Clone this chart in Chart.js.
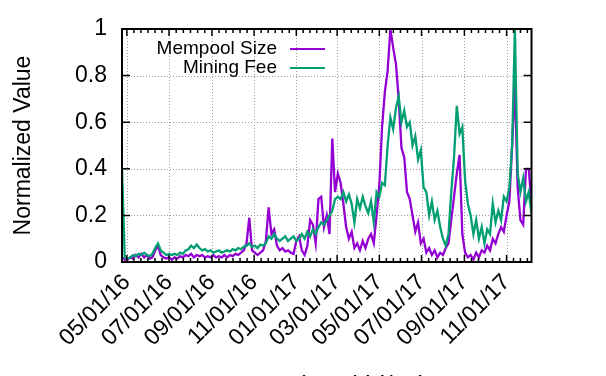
<!DOCTYPE html>
<html lang="en">
<head>
  <meta charset="UTF-8">
  <title>Mempool Size vs Mining Fee</title>
  <script src="https://cdn.jsdelivr.net/npm/chart.js"></script>
  <style>
    body { margin: 0; background: #fff; }
    canvas { display: block; }
  </style>
</head>
<body>
  <canvas id="chart" width="606" height="376"></canvas>

  <script>
    // Days are counted from 05/01/16, one sample every 4 days
    const startDay = -7;
    const stepDays = 4;

    const mempoolSize = [
      0.02, 0.01, 0.01, 0.02, 0.015, 0.03, 0.02, 0.035, 0.02, 0.03,
      0.015, 0.02, 0.05, 0.07, 0.03, 0.02, 0.015, 0.02, 0.01, 0.02,
      0.015, 0.025, 0.02, 0.03, 0.025, 0.035, 0.02, 0.03, 0.025, 0.03,
      0.02, 0.025, 0.02, 0.03, 0.02, 0.025, 0.02, 0.03, 0.02, 0.03,
      0.025, 0.035, 0.03, 0.04, 0.05, 0.08, 0.19, 0.05, 0.04, 0.03,
      0.04, 0.05, 0.09, 0.235, 0.12, 0.14, 0.07, 0.05, 0.06, 0.045,
      0.05, 0.04, 0.035, 0.09, 0.11, 0.05, 0.03, 0.07, 0.18, 0.16,
      0.08, 0.27, 0.28, 0.15, 0.2, 0.12, 0.53, 0.3, 0.38, 0.34,
      0.25, 0.15, 0.1, 0.13, 0.06, 0.08, 0.05, 0.09, 0.06, 0.1,
      0.12, 0.08, 0.2, 0.33, 0.58, 0.73, 0.82, 1.0, 0.92, 0.85,
      0.7, 0.49, 0.45, 0.3, 0.27, 0.2, 0.13, 0.17, 0.08, 0.1,
      0.04, 0.06, 0.03, 0.05, 0.02, 0.04, 0.03, 0.06, 0.08, 0.18,
      0.28, 0.38, 0.46, 0.12, 0.04, 0.02, 0.03, 0.01, 0.04, 0.02,
      0.05, 0.04, 0.07, 0.05, 0.1, 0.08, 0.12, 0.15, 0.13, 0.2,
      0.26, 0.5, 0.76, 0.32, 0.18, 0.16, 0.4, 0.4, 0.25
    ];

    const miningFee = [
      0.4, 0.02, 0.015, 0.02, 0.03, 0.025, 0.035, 0.03, 0.04, 0.03,
      0.025, 0.035, 0.06, 0.08, 0.05, 0.04, 0.03, 0.035, 0.03, 0.035,
      0.03, 0.04, 0.035, 0.05, 0.055, 0.07, 0.06, 0.075, 0.06, 0.05,
      0.055, 0.045, 0.05, 0.04, 0.045, 0.05, 0.04, 0.045, 0.05, 0.045,
      0.055, 0.05, 0.06, 0.055, 0.065, 0.07, 0.08, 0.065, 0.07, 0.06,
      0.075, 0.07, 0.08, 0.11, 0.1, 0.12, 0.1, 0.09, 0.1, 0.11,
      0.09, 0.1, 0.11, 0.09, 0.1, 0.12, 0.1, 0.13, 0.11, 0.14,
      0.12, 0.15, 0.17, 0.16, 0.18, 0.2, 0.22, 0.27, 0.28, 0.27,
      0.3, 0.26, 0.29, 0.25, 0.17, 0.27, 0.23, 0.28, 0.24, 0.21,
      0.26, 0.17, 0.3, 0.28, 0.34, 0.33, 0.5, 0.62, 0.57, 0.66,
      0.71, 0.6, 0.65, 0.58, 0.6, 0.5, 0.54, 0.44, 0.48, 0.32,
      0.3, 0.2, 0.26, 0.18, 0.22, 0.15, 0.1, 0.07, 0.12, 0.3,
      0.45, 0.67, 0.55, 0.58, 0.35, 0.25, 0.2, 0.12, 0.18, 0.1,
      0.15, 0.08, 0.14, 0.12, 0.25, 0.17, 0.22, 0.18, 0.28, 0.26,
      0.32, 0.5, 1.0, 0.38, 0.3, 0.36, 0.26, 0.3, 0.21
    ];

    const tickDays = [0, 61, 123, 184, 245, 304, 365, 426, 488, 549];
    const tickLabels = ['05/01/16', '07/01/16', '09/01/16', '11/01/16', '01/01/17',
                        '03/01/17', '05/01/17', '07/01/17', '09/01/17', '11/01/17'];
    const yTicks = [0, 0.2, 0.4, 0.6, 0.8, 1];
    const yTickLabels = ['0', '0.2', '0.4', '0.6', '0.8', '1'];

    const FONT = "'Liberation Sans', Arial, Helvetica, sans-serif";
    const PURPLE = '#9400d3';
    const GREEN = '#009e73';

    const toPoints = values => values.map((v, i) => ({ x: startDay + i * stepDays, y: v }));

    // gnuplot look: dotted grid, heavy frame, inward ticks, key on the left, x label
    const gnuplotLook = {
      id: 'gnuplotLook',
      beforeDatasetsDraw(chart) {
        const { ctx, chartArea: a, scales: { x, y } } = chart;
        ctx.save();
        ctx.strokeStyle = '#999';
        ctx.lineWidth = 1;
        ctx.setLineDash([1, 2]);
        tickDays.forEach(d => {
          const px = Math.round(x.getPixelForValue(d)) + 0.5;
          ctx.beginPath(); ctx.moveTo(px, a.top); ctx.lineTo(px, a.bottom); ctx.stroke();
        });
        yTicks.slice(1, -1).forEach(v => {
          const py = Math.round(y.getPixelForValue(v)) + 0.5;
          ctx.beginPath(); ctx.moveTo(a.left, py); ctx.lineTo(a.right, py); ctx.stroke();
        });
        ctx.restore();
      },
      afterDatasetsDraw(chart) {
        const { ctx, chartArea: a, scales: { x, y } } = chart;
        ctx.save();
        ctx.strokeStyle = '#000';
        ctx.lineWidth = 1.5;

        // minor x ticks: six steps between labelled dates
        const minor = [];
        for (let k = 0; k < tickDays.length - 1; k++) {
          const step = (tickDays[k + 1] - tickDays[k]) / 6;
          for (let j = 1; j < 6; j++) minor.push(tickDays[k] + j * step);
        }
        for (let d = tickDays[0] - 10; d > x.min; d -= 10) minor.push(d);
        for (let d = tickDays[tickDays.length - 1] + 10; d < x.max; d += 10) minor.push(d);

        ctx.beginPath();
        minor.forEach(d => {
          const px = x.getPixelForValue(d);
          ctx.moveTo(px, a.bottom); ctx.lineTo(px, a.bottom - 4);
          ctx.moveTo(px, a.top); ctx.lineTo(px, a.top + 4);
        });
        tickDays.forEach(d => {
          const px = x.getPixelForValue(d);
          ctx.moveTo(px, a.bottom); ctx.lineTo(px, a.bottom - 7);
          ctx.moveTo(px, a.top); ctx.lineTo(px, a.top + 7);
        });
        yTicks.forEach(v => {
          const py = y.getPixelForValue(v);
          ctx.moveTo(a.left, py); ctx.lineTo(a.left + 8, py);
          ctx.moveTo(a.right, py); ctx.lineTo(a.right - 8, py);
        });
        ctx.stroke();

        ctx.lineWidth = 2;
        ctx.strokeRect(a.left, a.top, a.right - a.left, a.bottom - a.top);

        // key
        ctx.font = '19px ' + FONT;
        ctx.fillStyle = '#000';
        ctx.textAlign = 'right';
        ctx.textBaseline = 'middle';
        [['Mempool Size', PURPLE, 49], ['Mining Fee', GREEN, 68]].forEach(([label, color, ky]) => {
          ctx.fillText(label, 277, ky);
          ctx.strokeStyle = color;
          ctx.lineWidth = 2;
          ctx.beginPath(); ctx.moveTo(290, ky); ctx.lineTo(325, ky); ctx.stroke();
        });

        // x axis label (falls partly off the bottom, as in the original)
        ctx.font = '26px ' + FONT;
        ctx.textAlign = 'center';
        ctx.textBaseline = 'alphabetic';
        ctx.fillText('Date (mm/dd/yy)', 331, 394);
        ctx.restore();
      }
    };

    new Chart(document.getElementById('chart'), {
      type: 'line',
      data: {
        datasets: [
          {
            label: 'Mempool Size',
            data: toPoints(mempoolSize),
            borderColor: PURPLE,
            borderWidth: 2.3,
            pointRadius: 0,
            tension: 0,
            order: 1
          },
          {
            label: 'Mining Fee',
            data: toPoints(miningFee),
            borderColor: GREEN,
            borderWidth: 2.3,
            pointRadius: 0,
            tension: 0,
            order: 0
          }
        ]
      },
      options: {
        responsive: false,
        animation: false,
        layout: { padding: { left: 0, top: 29, right: 74.5, bottom: 0 } },
        plugins: { legend: { display: false }, tooltip: { enabled: false } },
        scales: {
          x: {
            type: 'linear',
            min: startDay,
            max: startDay + stepDays * (mempoolSize.length - 1),
            afterBuildTicks: s => { s.ticks = tickDays.map(v => ({ value: v })); },
            afterFit: s => { s.height = 114; },
            grid: { display: false, drawTicks: false },
            border: { display: false },
            ticks: {
              autoSkip: false,
              minRotation: 45,
              maxRotation: 45,
              padding: 7,
              color: '#000',
              font: { family: FONT, size: 23 },
              callback: v => tickLabels[tickDays.indexOf(v)]
            }
          },
          y: {
            min: 0,
            max: 1,
            afterBuildTicks: s => { s.ticks = yTicks.map(v => ({ value: v })); },
            afterFit: s => { s.width = 122; },
            grid: { display: false, drawTicks: false },
            border: { display: false },
            ticks: {
              padding: 15,
              color: '#000',
              font: { family: FONT, size: 23 },
              callback: v => yTickLabels[yTicks.indexOf(v)]
            },
            title: {
              display: true,
              text: 'Normalized Value',
              color: '#000',
              font: { family: FONT, size: 23 },
              padding: { top: 10, bottom: 0 }
            }
          }
        }
      },
      plugins: [gnuplotLook]
    });
  </script>
</body>
</html>
